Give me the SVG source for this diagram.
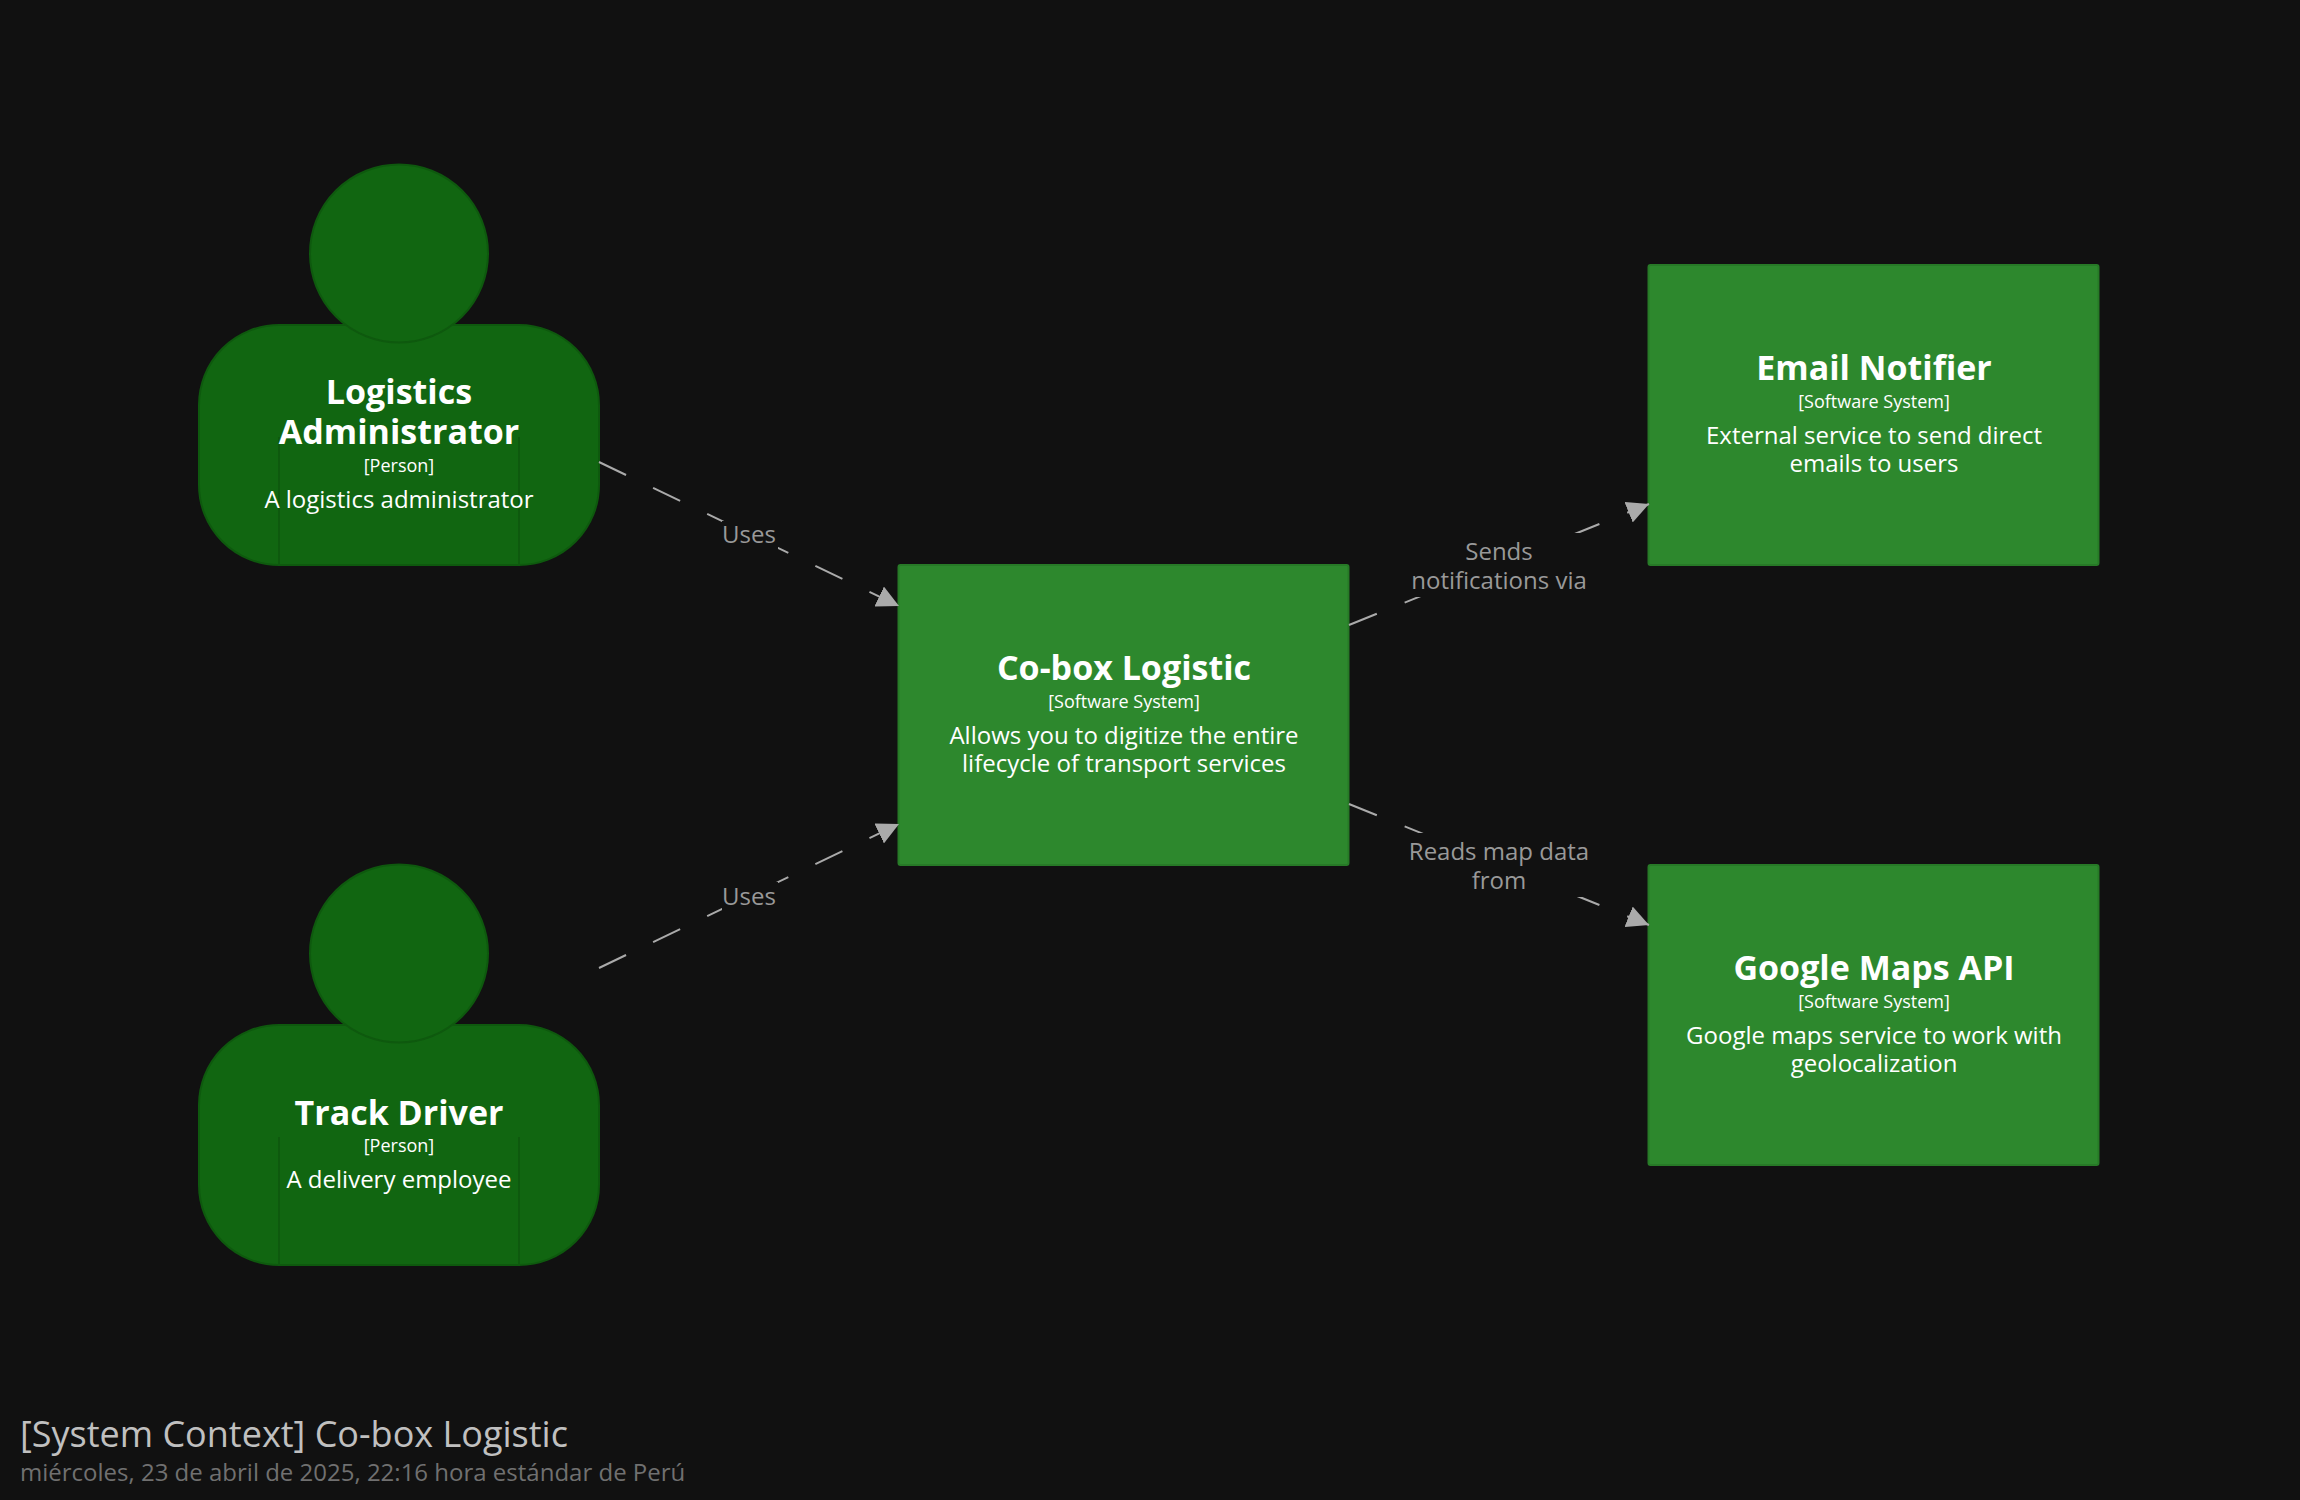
<svg xmlns="http://www.w3.org/2000/svg" width="2300" height="1500" viewBox="0 0 2300 1500">
<style>
text{font-family:"Open Sans","Noto Sans",sans-serif;text-anchor:middle}
.name{font-size:34px;font-weight:700;fill:#fff}
.meta{font-size:18px;fill:#fff}
.desc{font-size:24px;fill:#fff}
.p{fill:#116611;stroke:#0e590e;stroke-width:2}
.pl{fill:none;stroke:#0e590e;stroke-width:2}
.b{fill:#2d882d;stroke:#277a27;stroke-width:2}
.c{fill:none;stroke:#aaaaaa;stroke-width:2;stroke-dasharray:30 30;marker-end:url(#arr)}
.lb{fill:#111111}
.lt{font-size:24px;fill:#999999}
</style>
<defs>
<marker id="arr" markerUnits="userSpaceOnUse" markerWidth="22" markerHeight="22" refX="20" refY="10" viewBox="0 0 20 20" orient="auto"><path d="M0 0L20 10L0 20z" fill="#aaaaaa"/></marker>
</defs>
<rect width="2300" height="1500" fill="#111111"/>
<g id="person-admin">
<rect class="p" x="199" y="325" width="400" height="240" rx="80"/>
<path class="pl" d="M279 437V565M519 437V565"/>
<circle class="p" cx="399" cy="253.500" r="89"/>
<text class="name" x="399" y="404">Logistics</text>
<text class="name" x="399" y="444">Administrator</text>
<text class="meta" x="399" y="472">[Person]</text>
<text class="desc" x="399" y="508">A logistics administrator</text>
</g>
<g id="person-driver">
<rect class="p" x="199" y="1025" width="400" height="240" rx="80"/>
<path class="pl" d="M279 1137V1265M519 1137V1265"/>
<circle class="p" cx="399" cy="953.500" r="89"/>
<text class="name" x="399" y="1125">Track Driver</text>
<text class="meta" x="399" y="1152">[Person]</text>
<text class="desc" x="399" y="1188">A delivery employee</text>
</g>
<g id="system-cobox">
<rect class="b" x="898.500" y="565" width="450" height="300" rx="2"/>
<text class="name" x="1124" y="680">Co-box Logistic</text>
<text class="meta" x="1124" y="708">[Software System]</text>
<text class="desc" x="1124" y="744">Allows you to digitize the entire</text>
<text class="desc" x="1124" y="772">lifecycle of transport services</text>
</g>
<g id="system-email">
<rect class="b" x="1648.500" y="265" width="450" height="300" rx="2"/>
<text class="name" x="1874" y="380">Email Notifier</text>
<text class="meta" x="1874" y="408">[Software System]</text>
<text class="desc" x="1874" y="444">External service to send direct</text>
<text class="desc" x="1874" y="472">emails to users</text>
</g>
<g id="system-maps">
<rect class="b" x="1648.500" y="865" width="450" height="300" rx="2"/>
<text class="name" x="1874" y="980">Google Maps API</text>
<text class="meta" x="1874" y="1008">[Software System]</text>
<text class="desc" x="1874" y="1044">Google maps service to work with</text>
<text class="desc" x="1874" y="1072">geolocalization</text>
</g>
<g id="connectors">
<path class="c" d="M599 462L899 606"/>
<rect class="lb" x="722" y="521" width="56" height="28"/>
<text class="lt" x="749" y="543">Uses</text>
<path class="c" d="M599 968L899 824"/>
<rect class="lb" x="722" y="882" width="56" height="28"/>
<text class="lt" x="749" y="905">Uses</text>
<path class="c" d="M1349 625L1649 504"/>
<rect class="lb" x="1411" y="533" width="176" height="64"/>
<text class="lt" x="1499" y="560">Sends</text>
<text class="lt" x="1499" y="589">notifications via</text>
<path class="c" d="M1349 804L1649 925"/>
<rect class="lb" x="1408" y="833" width="182" height="64"/>
<text class="lt" x="1499" y="860">Reads map data</text>
<text class="lt" x="1499" y="889">from</text>
</g>
<g id="title">
<text x="20" y="1447" style="font-size:36px;text-anchor:start;fill:#c0c0c0">[System Context] Co-box Logistic</text>
<text x="20" y="1481" style="font-size:24px;text-anchor:start;fill:#707070">miércoles, 23 de abril de 2025, 22:16 hora estándar de Perú</text>
</g>
</svg>
